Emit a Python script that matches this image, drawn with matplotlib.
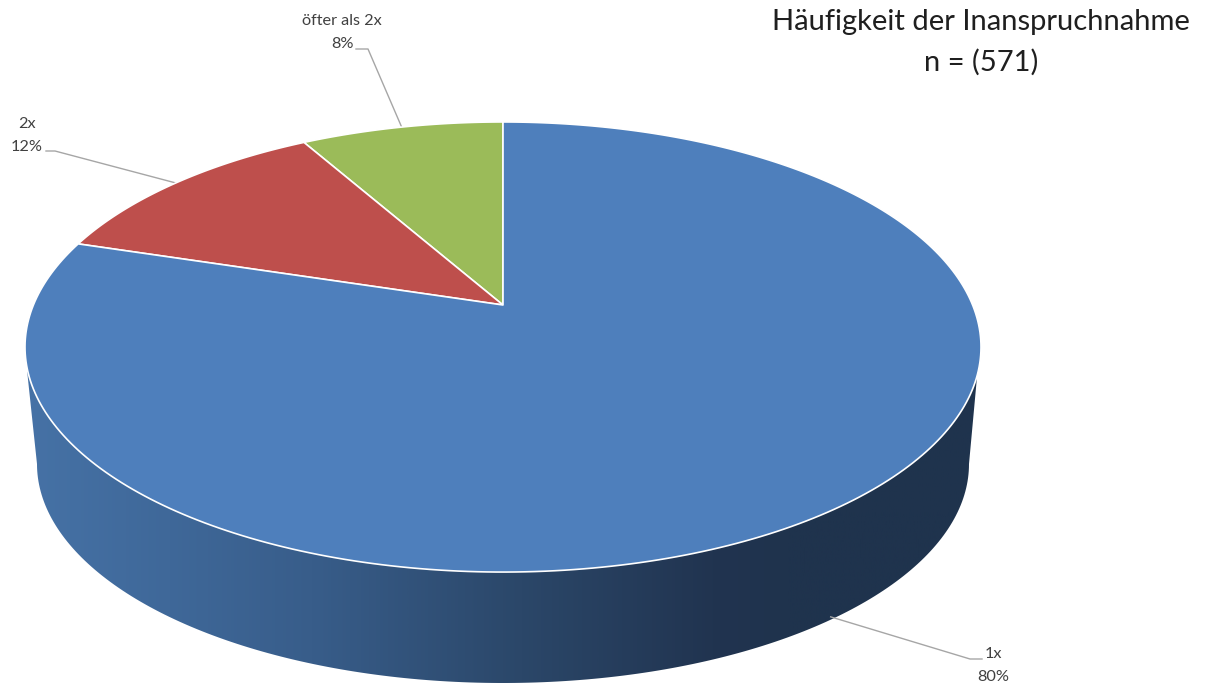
import numpy as np
import matplotlib
matplotlib.use('Agg')
import matplotlib.pyplot as plt
from matplotlib.colors import LinearSegmentedColormap
from matplotlib.patches import Polygon

categories = ['öfter als 2x', '2x', '1x']
shares = [8.2, 12.0, 79.8]
colors = ['#9BBB59', '#BE4F4C', '#4E7FBC']
title_lines = ['Häufigkeit der Inanspruchnahme', 'n = (571)']

plt.rcParams['font.family'] = ['Lato', 'DejaVu Sans']

# pixel coordinates of the picture, y goes down
fig = plt.figure(figsize=(12.11, 6.84), dpi=100)
ax = fig.add_axes([0, 0, 1, 1])

# pie plate seen in perspective: apex is above the centre of the ellipse
apex_x, apex_y = 503, 305
scale_x, scale_y, persp = 469.6, 217.2, 0.1867
depth = 106


def project(frac):
    # frac = share of the full circle, counter clockwise from 12 o'clock
    a = 2 * np.pi * np.asarray(frac, dtype=float)
    u, v = -np.sin(a), np.cos(a)
    d = 1 + persp * v
    return apex_x + scale_x * u / d, apex_y - scale_y * v / d


# side wall with the left to right shading
t = np.linspace(np.pi, 0, 200)
wall_x = np.r_[27, 503 + 466 * np.cos(t), 977]
wall_y = np.r_[370, 464 + 219 * np.sin(t), 377]
wall = Polygon(np.c_[wall_x, wall_y], closed=True, fc='none', ec='none')
ax.add_patch(wall)
shade = LinearSegmentedColormap.from_list(
    'wall', [(0, '#4672A6'), (0.15, '#3F6899'), (0.3, '#385D8A'), (0.52, '#2B4769'),
             (0.72, '#213450'), (0.8, '#1F334D'), (1, '#1F334D')])
img = ax.imshow(np.linspace(0, 1, 512)[None, :], extent=(25, 981, 690, 340), cmap=shade, aspect='auto', zorder=1)
img.set_clip_path(wall)

# slices on the top face
start = 0
mids = []
for share, color in zip(shares, colors):
    frac = np.linspace(start, start + share, 300) / sum(shares)
    x, y = project(frac)
    ax.add_patch(Polygon(np.c_[np.r_[apex_x, x], np.r_[apex_y, y]], closed=True,
                         fc=color, ec='white', lw=1.2, zorder=2, joinstyle='round'))
    mids.append((start + share / 2) / sum(shares))
    start += share

# labels and leader lines
label_pos = [(342, 21), (27, 124), (993, 654)]
elbows = [[(368, 49), (356, 49)], [(55, 151), (46, 151)], [(970, 659), (982, 659)]]
offsets = [0, 0, depth]
for name, share, mid, pos, elbow, off in zip(categories, shares, mids, label_pos, elbows, offsets):
    ax_x, ax_y = project(mid)
    ax.plot([float(ax_x), elbow[0][0], elbow[1][0]], [float(ax_y) + off, elbow[0][1], elbow[1][1]],
            color='#A6A6A6', lw=1, zorder=0.5 if off == 0 else 3)
    ax.text(pos[0], pos[1], name, ha='center', va='center', fontsize=11.7, color='#404040')
    ax.text(pos[0], pos[1] + 23, f'{round(share)}%', ha='center', va='center', fontsize=11.7, color='#404040')

ax.text(981, 22, title_lines[0], ha='center', va='center', fontsize=21, color='#1F1F1F')
ax.text(981, 62, title_lines[1], ha='center', va='center', fontsize=21, color='#1F1F1F')

ax.set_xlim(0, 1211)
ax.set_ylim(684, 0)
ax.axis('off')
fig.savefig('out.png', dpi=100, facecolor='white')
